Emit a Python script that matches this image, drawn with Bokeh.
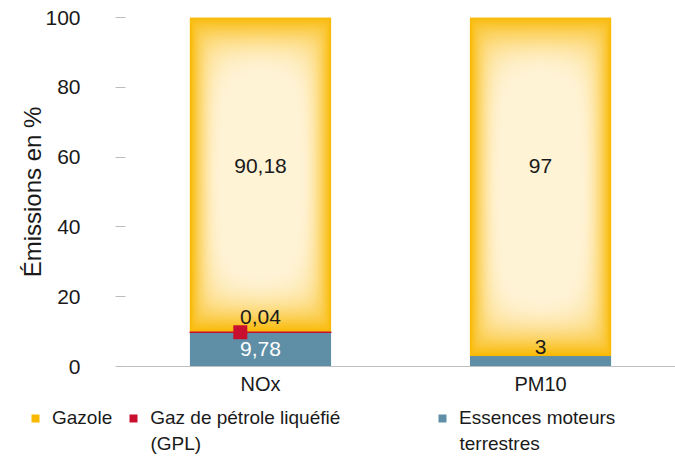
import numpy as np
from bokeh.plotting import figure
from bokeh.layouts import column
from bokeh.models import (ColumnDataSource, FactorRange, Range1d, Legend, LegendItem,
                          FixedTicker, Label)
from bokeh.transform import dodge
from bokeh.core.properties import value
from bokeh.embed import file_html
from bokeh.resources import INLINE

# ---- data ----
categories = ["NOx", "PM10"]
essences = [9.78, 3.0]
gpl = [0.04, 0.0]
gazole = [90.18, 97.0]
series_names = ["Gazole", "Gaz de pétrole liquéfié", "Essences moteurs"]
series_second_lines = ["", "(GPL)", "terrestres"]
y_ticks = [0, 20, 40, 60, 80, 100]
y_title = "Émissions en %"

# ---- style ----
FONT = "Liberation Sans"
C_GAZ = (249, 184, 0)
C_GAZ_HEX = "#F9B800"
C_GAZ_LIGHT = (255, 243, 214)
C_GPL = "#C8102E"
C_ESS = "#5E8FA7"
TXT = "#1a1a1a"
BAR_W = 0.504
LABEL_Y_MAIN = 57.5
W = 675
H_MAIN, H_LEG = 400, 59
MB_L, MB_T, MB_B = 125, 17, 34
PX_PER_UNIT = (H_MAIN - MB_T - MB_B) / 100.0
BAR_PX = 141


def fmt(v):
    return ("%g" % v).replace(".", ",")


def glow_image(h_px, w_px, edge=C_GAZ, center=C_GAZ_LIGHT, reach_x=34.0, reach_y=62.0):
    """rectangular 'from centre' gradient texture for a bar segment"""
    h_px, w_px = max(int(h_px), 2), max(int(w_px), 2)
    yy, xx = np.mgrid[0:h_px, 0:w_px].astype(float)
    ex = np.minimum(xx + 0.5, w_px - xx - 0.5) / reach_x
    ey = np.minimum(yy + 0.5, h_px - yy - 0.5) / reach_y
    e = 1.0 / np.sqrt(1.0 / ex ** 2 + 1.0 / ey ** 2)
    f = np.clip(e * 1.15, 0, 1)
    f = np.sin(f * np.pi / 2)
    rgba = np.zeros((h_px, w_px, 4), dtype=np.uint8)
    for k in range(3):
        rgba[..., k] = np.round(edge[k] + (center[k] - edge[k]) * f).astype(np.uint8)
    rgba[..., 3] = 255
    return rgba.view(dtype=np.uint32).reshape((h_px, w_px))


ess = np.array(essences)
g = np.array(gpl)
gz = np.array(gazole)

src = ColumnDataSource(dict(
    cat=categories,
    ess_top=ess,
    gpl_bot=ess,
    gpl_top=ess + g,
    gpl_alpha=(g > 0).astype(float),
    gaz_bot=ess + g,
    gaz_top=ess + g + gz,
))

p = figure(x_range=FactorRange(*categories, range_padding=-0.018, range_padding_units="absolute"),
           y_range=Range1d(0, 100),
           width=W, height=H_MAIN, output_backend="svg", toolbar_location=None,
           min_border_left=MB_L, min_border_right=0, min_border_top=MB_T, min_border_bottom=MB_B)
p.outline_line_color = None
p.xgrid.visible = False
p.ygrid.visible = False

r_ess = p.vbar(x="cat", bottom=0, top="ess_top", width=BAR_W, source=src,
               fill_color=C_ESS, line_color=None)
r_gaz = p.vbar(x="cat", bottom="gaz_bot", top="gaz_top", width=BAR_W, source=src,
               fill_color=C_GAZ_HEX, line_color=None)

# gradient texture on the gazole segments
img_src = ColumnDataSource(dict(
    cat=categories,
    y=list(ess + g),
    dh=list(gz),
    image=[glow_image(v * PX_PER_UNIT, BAR_PX) for v in gz],
))
p.image_rgba(image="image", x=dodge("cat", -BAR_W / 2, range=p.x_range), y="y",
             dw=BAR_W, dh="dh", source=img_src)

r_gpl = p.vbar(x="cat", bottom="gpl_bot", top="gpl_top", width=BAR_W, source=src,
               fill_color=C_GPL, line_color=C_GPL, line_alpha="gpl_alpha", line_width=1.5)

# value labels
lab_x, lab_y, lab_t, lab_c = [], [], [], []
for i, c in enumerate(categories):
    if ess[i] >= 6:
        lab_x.append(c); lab_y.append(ess[i] / 2); lab_t.append(fmt(ess[i])); lab_c.append("white")
    else:
        lab_x.append(c); lab_y.append(ess[i] + 2.7); lab_t.append(fmt(ess[i])); lab_c.append(TXT)
    if g[i] > 0:
        lab_x.append(c); lab_y.append(ess[i] + g[i] + 4.5); lab_t.append(fmt(g[i])); lab_c.append(TXT)
    lab_x.append(c); lab_y.append(LABEL_Y_MAIN); lab_t.append(fmt(gz[i])); lab_c.append(TXT)

lsrc = ColumnDataSource(dict(x=lab_x, y=lab_y, t=lab_t, c=lab_c))
p.text(x="x", y="y", text="t", source=lsrc, text_color="c", text_font=value(FONT),
       text_font_size="21px", text_align="center", text_baseline="middle")

# red legend key of the GPL data label
ksrc = ColumnDataSource(dict(cat=[c for i, c in enumerate(categories) if g[i] > 0],
                             y=[ess[i] + g[i] for i in range(len(categories)) if g[i] > 0]))
p.scatter(x=dodge("cat", -0.072, range=p.x_range), y="y", source=ksrc, marker="square",
          size=14, fill_color=C_GPL, line_color=None)

# axes
p.yaxis.ticker = FixedTicker(ticks=y_ticks)
p.yaxis.axis_line_color = None
p.yaxis.major_tick_line_color = "#BDBDBD"
p.yaxis.major_tick_in = 0
p.yaxis.major_tick_out = 10
p.yaxis.minor_tick_line_color = None
p.yaxis.major_label_standoff = 35
p.yaxis.major_label_text_font = FONT
p.yaxis.major_label_text_font_size = "21px"
p.yaxis.major_label_text_color = TXT
p.yaxis.axis_label = y_title
p.yaxis.axis_label_text_font = FONT
p.yaxis.axis_label_text_font_size = "24px"
p.yaxis.axis_label_text_font_style = "normal"
p.yaxis.axis_label_text_color = TXT
p.yaxis.axis_label_standoff = -4

p.xaxis.axis_line_color = "#BFBFBF"
p.xaxis.major_tick_line_color = None
p.xaxis.minor_tick_line_color = None
p.xaxis.major_label_standoff = 0
p.xaxis.major_label_text_font = FONT
p.xaxis.major_label_text_font_size = "20px"
p.xaxis.major_label_text_color = TXT

# ---- legend strip below the chart ----
lf = figure(x_range=FactorRange(*categories), y_range=Range1d(0, 100),
            width=W, height=H_LEG, output_backend="svg", toolbar_location=None,
            min_border=0, x_axis_location=None, y_axis_location=None)
lf.frame_align = False
p.frame_align = False
lf.outline_line_color = None
lf.xgrid.visible = False
lf.ygrid.visible = False
k_gaz = lf.vbar(x="cat", bottom="gaz_bot", top="gaz_top", width=BAR_W, source=src,
                fill_color=C_GAZ_HEX, line_color=None, visible=False)
k_gpl = lf.vbar(x="cat", bottom="gpl_bot", top="gpl_top", width=BAR_W, source=src,
                fill_color=C_GPL, line_color=None, visible=False)
k_ess = lf.vbar(x="cat", bottom=0, top="ess_top", width=BAR_W, source=src,
                fill_color=C_ESS, line_color=None, visible=False)

GLYPH_W, STANDOFF = 10, 12
common = dict(orientation="horizontal", glyph_width=GLYPH_W, glyph_height=10,
              label_standoff=STANDOFF, spacing=16, padding=0, margin=0,
              border_line_color=None, background_fill_alpha=0,
              label_text_font=FONT, label_text_font_size="19px", label_text_color=TXT,
              label_height=24)
leg1 = Legend(items=[LegendItem(label=series_names[0], renderers=[k_gaz]),
                     LegendItem(label=series_names[1], renderers=[k_gpl])],
              location=(30, 29), **common)
lf.add_layout(leg1)
leg2 = Legend(items=[LegendItem(label=series_names[2], renderers=[k_ess])],
              location=(437, 29), **common)
lf.add_layout(leg2)
# second lines of the wrapped legend labels
for x0, t in [(128, series_second_lines[1]), (437, series_second_lines[2])]:
    lf.add_layout(Label(x=x0 + GLYPH_W + STANDOFF, y=16, x_units="screen", y_units="screen",
                        text=t, text_font=FONT, text_font_size="19px", text_color=TXT,
                        text_baseline="middle"))

layout = column(p, lf, spacing=0)
open("out.html", "w").write(file_html(layout, INLINE))
